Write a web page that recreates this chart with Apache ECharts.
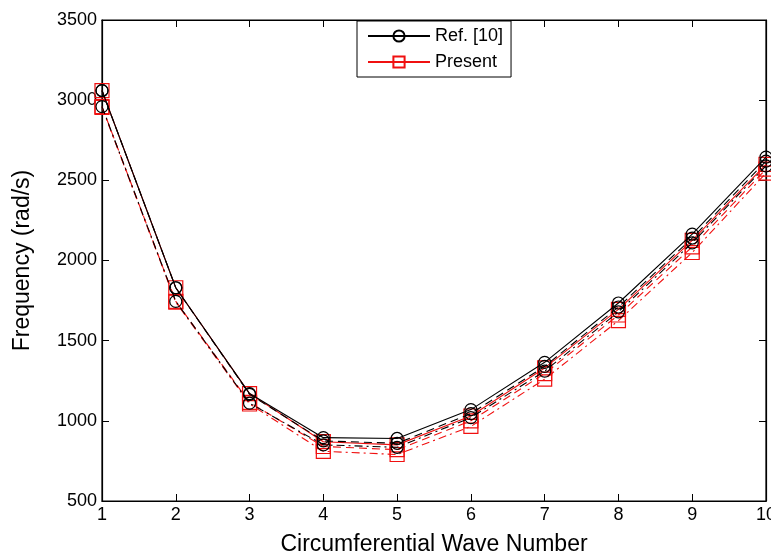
<!DOCTYPE html>
<html>
<head>
<meta charset="utf-8">
<script src="https://cdn.jsdelivr.net/npm/echarts@6/dist/echarts.min.js"></script>
<style>html,body{margin:0;padding:0;background:#fff;}#c{width:771px;height:555px;}</style>
</head>
<body>
<div id="c"></div>
<script>
var waveNumbers = [1, 2, 3, 4, 5, 6, 7, 8, 9, 10];
var refSolid   = [3060, 1830, 1170, 895, 890, 1070, 1365, 1735, 2165, 2645];
var refDashed  = [3060, 1830, 1165, 875, 860, 1045, 1340, 1710, 2140, 2620];
var refDashDot = [2960, 1745, 1110, 850, 835, 1020, 1310, 1680, 2110, 2590];
var preSolid   = [3060, 1830, 1170, 870, 850, 1030, 1330, 1695, 2125, 2600];
var preDashed  = [2960, 1745, 1115, 840, 820, 1000, 1295, 1660, 2085, 2570];
var preDashDot = [2955, 1740, 1105, 810, 790, 965, 1260, 1625, 2050, 2545];
var yTicks = [500, 1000, 1500, 2000, 2500, 3000, 3500];

function pairs(ys){ return waveNumbers.map(function(x,i){ return [x, ys[i]]; }); }
function mk(name, ys, color, type, symbol, size){
  return {
    name: name, type: 'line', data: pairs(ys),
    symbol: symbol, symbolSize: size, showSymbol: true,
    lineStyle: {color: color, width: 1.1, type: type},
    itemStyle: {color: 'rgba(255,255,255,0)', borderColor: color, borderWidth: 1.2},
    z: color === '#000' ? 3 : 2,
    animation: false
  };
}
var RED = '#f01010';
var ff = 'Liberation Sans, Arial, sans-serif';
var chart = echarts.init(document.getElementById('c'));
chart.setOption({
  backgroundColor: '#fff',
  animation: false,
  grid: {left: 102, right: 5, top: 20, bottom: 54, outerBoundsMode: 'none', containLabel: false,
         show: true, borderColor: '#000', borderWidth: 1.2, backgroundColor: 'transparent'},
  legend: {
    data: ['Ref. [10]', 'Present'],
    orient: 'vertical', left: 357, top: 21,
    backgroundColor: '#fff', borderColor: '#000', borderWidth: 1,
    padding: [6, 8, 6, 10], itemGap: 8, itemWidth: 62, itemHeight: 14,
    textStyle: {fontFamily: ff, fontSize: 18, color: '#000'}
  },
  xAxis: [{
    type: 'value', min: 1, max: 10, interval: 1,
    name: 'Circumferential Wave Number', nameLocation: 'middle', nameGap: 32,
    nameTextStyle: {fontFamily: ff, fontSize: 23, color: '#000'},
    axisLine: {show: true, lineStyle: {color: '#000', width: 1.2}},
    axisTick: {show: true, inside: true, length: 7, lineStyle: {color: '#000'}},
    axisLabel: {fontFamily: ff, fontSize: 18, color: '#000', margin: 5},
    splitLine: {show: false}
  }, {
    type: 'value', min: 1, max: 10, interval: 1, position: 'top',
    axisLine: {show: true, lineStyle: {color: '#000', width: 1.2}},
    axisTick: {show: true, inside: true, length: 7, lineStyle: {color: '#000'}},
    axisLabel: {show: false}, splitLine: {show: false}
  }],
  yAxis: [{
    type: 'value', min: yTicks[0], max: yTicks[yTicks.length-1], interval: 500,
    name: 'Frequency (rad/s)', nameLocation: 'middle', nameGap: 68,
    nameTextStyle: {fontFamily: ff, fontSize: 23, color: '#000'},
    axisLine: {show: true, lineStyle: {color: '#000', width: 1.2}},
    axisTick: {show: true, inside: true, length: 7, lineStyle: {color: '#000'}},
    axisLabel: {fontFamily: ff, fontSize: 18, color: '#000', margin: 5, formatter: function(v){ return String(v); }},
    splitLine: {show: false}
  }, {
    type: 'value', min: yTicks[0], max: yTicks[yTicks.length-1], interval: 500, position: 'right',
    axisLine: {show: true, lineStyle: {color: '#000', width: 1.2}},
    axisTick: {show: true, inside: true, length: 7, lineStyle: {color: '#000'}},
    axisLabel: {show: false}, splitLine: {show: false}
  }],
  series: [
    mk('Present', preSolid, RED, 'solid', 'rect', 14),
    mk('Present dashed', preDashed, RED, [8, 5], 'rect', 14),
    mk('Present dashdot', preDashDot, RED, [8, 4, 2, 4], 'rect', 14),
    mk('Ref. [10]', refSolid, '#000', 'solid', 'circle', 12),
    mk('Ref dashed', refDashed, '#000', [8, 5], 'circle', 12),
    mk('Ref dashdot', refDashDot, '#000', [8, 4, 2, 4], 'circle', 12)
  ]
});
</script>
</body>
</html>
